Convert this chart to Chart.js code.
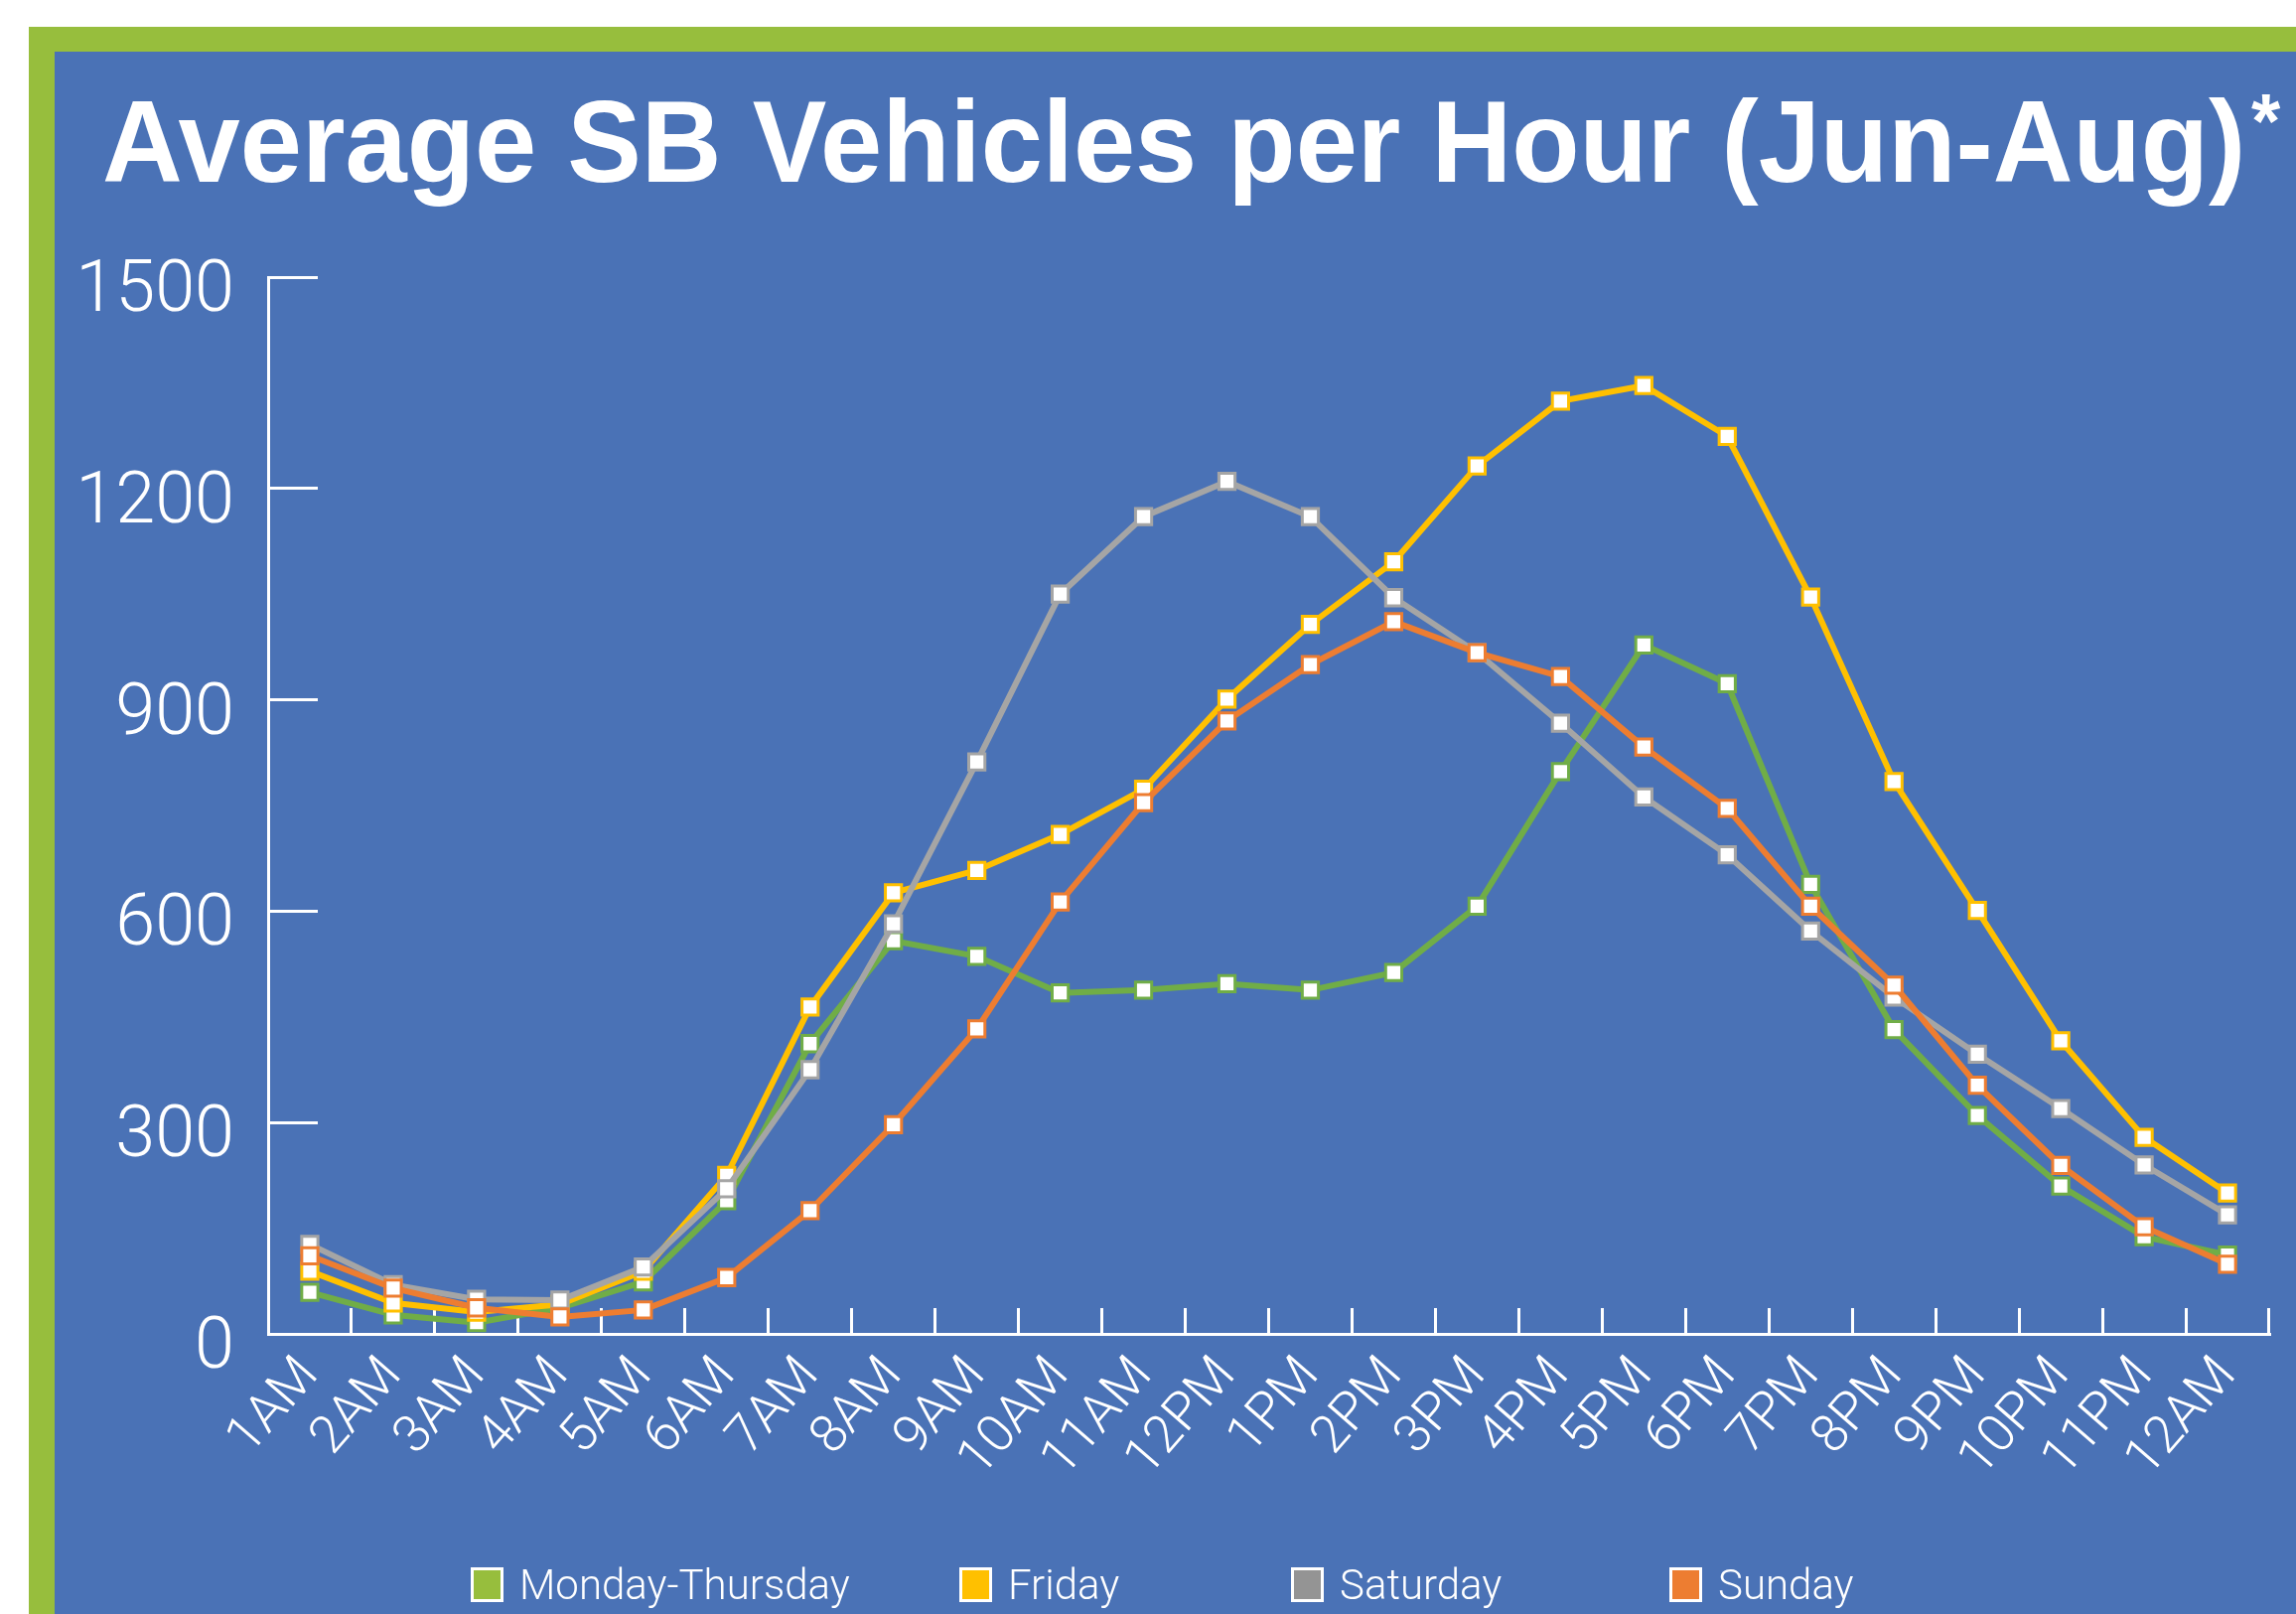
<!DOCTYPE html>
<html>
<head>
<meta charset="utf-8">
<script src="https://cdn.jsdelivr.net/npm/chart.js@4.4.1/dist/chart.umd.min.js"></script>
<style>
  html, body { margin: 0; padding: 0; background: #fff; }
  body { width: 2312px; height: 1625px; position: relative; overflow: hidden; }
  #frame  { position: absolute; left: 29px; top: 27px; right: 0; bottom: 0; background: #97BE3D; }
  #panel  { position: absolute; left: 55px; top: 52px; right: 0; bottom: 0; background: #4A72B6; }
  #title  {
    position: absolute; left: 103px; top: 85px; white-space: nowrap;
    font-family: "Liberation Sans", Arial, sans-serif; font-weight: bold;
    font-size: 116px; line-height: 116px; color: #fff;
    transform: scaleX(0.964); transform-origin: left top;
  }
  #title .ast { font-size: 78px; position: relative; top: -34px; margin-left: 6px; }
  #chartBox { position: absolute; left: 0; top: 0; width: 2312px; height: 1625px; }
  #legend { position: absolute; left: 0; top: 0; width: 2312px; height: 1625px; pointer-events: none; }
  .lg-item { position: absolute; top: 1578px; height: 35px; display: flex; align-items: center; }
  .lg-box  { width: 33px; height: 35px; box-sizing: border-box; border: 3px solid #fff; }
  .lg-text {
    margin-left: 16px; color: #fff; white-space: nowrap;
    font-family: Roboto, "Open Sans", sans-serif; font-weight: 300; font-size: 42px; line-height: 35px;
  }
</style>
</head>
<body>
<div id="frame"></div>
<div id="panel"></div>
<div id="title">Average SB Vehicles per Hour (Jun-Aug)<span class="ast">*</span></div>
<div id="chartBox"><canvas id="chart"></canvas></div>
<div id="legend"></div>

<script>
// ── data ─────────────────────────────────────────────────────────────────────
const hours = ['1AM', '2AM', '3AM', '4AM', '5AM', '6AM', '7AM', '8AM', '9AM', '10AM', '11AM', '12PM',
               '1PM', '2PM', '3PM', '4PM', '5PM', '6PM', '7PM', '8PM', '9PM', '10PM', '11PM', '12AM'];

const monThu   = [59, 27, 16, 37, 74, 189, 412, 558, 536, 484, 488, 497, 488, 513, 607, 798, 978, 923, 638, 432, 310, 210, 138, 112];
const friday   = [89, 44, 31, 42, 89, 225, 464, 626, 658, 709, 773, 901, 1007, 1096, 1232, 1324, 1346, 1274, 1046, 784, 601, 416, 279, 200];
const saturday = [127, 70, 49, 48, 95, 206, 375, 582, 812, 1050, 1160, 1210, 1160, 1045, 967, 867, 762, 680, 572, 478, 397, 320, 240, 169];
const sunday   = [111, 65, 37, 24, 34, 80, 175, 297, 433, 613, 754, 870, 950, 1011, 967, 933, 833, 746, 607, 495, 353, 239, 152, 99];

const seriesNames  = ['Monday-Thursday', 'Friday', 'Saturday', 'Sunday'];
const seriesData   = [monThu, friday, saturday, sunday];
const lineColors   = ['#70AD47', '#FFC000', '#A5A5A5', '#ED7D31'];
const legendColors = ['#97BE3D', '#FFC000', '#949494', '#ED7D31'];

const yMax  = 1500;
const yStep = 300;

// ── layout ───────────────────────────────────────────────────────────────────
const legendX = [474, 966, 1300, 1681];
const tickFont = 'Roboto, "Open Sans", sans-serif';

const datasets = seriesNames.map((name, i) => ({
  label: name,
  data: seriesData[i],
  borderColor: lineColors[i],
  backgroundColor: lineColors[i],
  borderWidth: 6,
  tension: 0,
  pointStyle: 'rect',
  pointRadius: 11.5,
  pointHoverRadius: 11.5,
  pointBorderWidth: 3,
  pointBorderColor: lineColors[i],
  pointBackgroundColor: '#ffffff',
  order: seriesNames.length - 1 - i,   // Sunday drawn last (on top)
}));

new Chart(document.getElementById('chart'), {
  type: 'line',
  data: { labels: hours, datasets },
  options: {
    responsive: true, maintainAspectRatio: false, animation: false,
    layout: { padding: { top: 279, right: 27, left: 0, bottom: 0 } },
    plugins: { legend: { display: false }, tooltip: { enabled: false } },
    scales: {
      x: {
        type: 'category', offset: true,
        grid: { offset: true, drawOnChartArea: false, drawTicks: true, tickLength: -26, color: '#ffffff', lineWidth: 3 },
        border: { display: true, color: '#ffffff', width: 3 },
        ticks: { color: '#ffffff', autoSkip: false, minRotation: 49, maxRotation: 49, padding: 38,
                 font: { family: tickFont, size: 53, weight: 300 } },
        afterFit: s => { s.height = 282; s.paddingLeft = 0; s.paddingRight = 0; },
      },
      y: {
        min: 0, max: yMax,
        grid: { drawOnChartArea: false, drawTicks: true, tickLength: -50, color: '#ffffff', lineWidth: 3 },
        border: { display: true, color: '#ffffff', width: 3 },
        ticks: { stepSize: yStep, color: '#ffffff', padding: 84, labelOffset: 16,
                 callback: v => String(v),
                 font: { family: tickFont, size: 72, weight: 300 } },
        afterFit: s => { s.width = 270; },
      },
    },
  },
});

// HTML legend built from the series arrays
document.getElementById('legend').innerHTML = seriesNames.map((name, i) => `
  <div class="lg-item" style="left:${legendX[i]}px">
    <div class="lg-box" style="background:${legendColors[i]}"></div>
    <div class="lg-text">${name}</div>
  </div>`).join('');
</script>
</body>
</html>
